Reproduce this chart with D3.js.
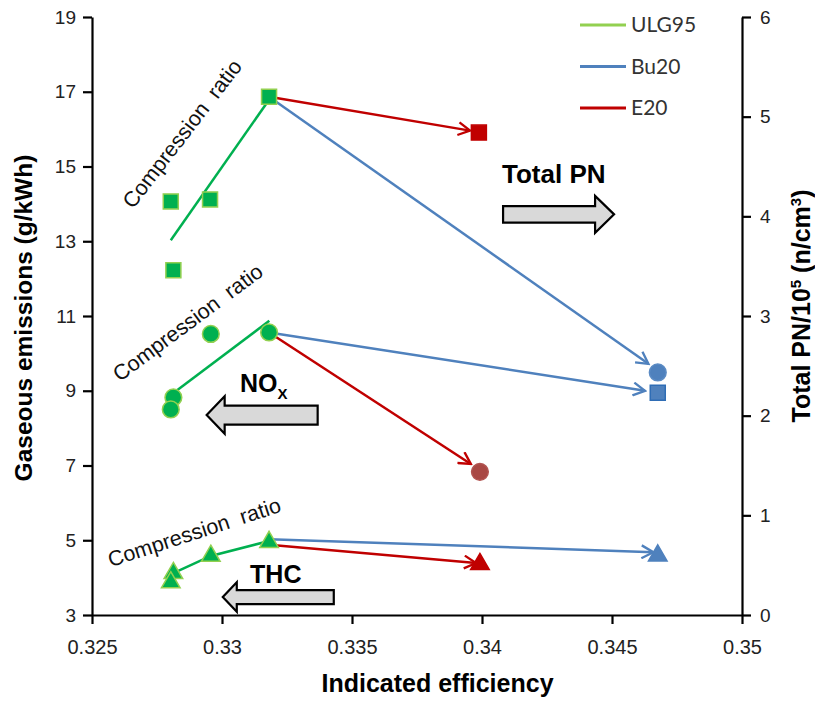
<!DOCTYPE html>
<html>
<head>
<meta charset="utf-8">
<script src="https://cdn.jsdelivr.net/npm/d3@7"></script>
<style>
  body { margin: 0; background: #fff; }
  svg { display: block; font-family: "Liberation Sans", Arial, sans-serif; }
</style>
</head>
<body>
<svg width="815" height="702"></svg>
<script>
// fuels in the legend
var fuels = ["ULG95", "Bu20", "E20"];
var fuelColors = { ULG95: "#00B050", Bu20: "#4F81BD", E20: "#C00000" };

// axis ticks
var xTicks = [0.325, 0.33, 0.335, 0.34, 0.345, 0.35];
var yLeftTicks = [3, 5, 7, 9, 11, 13, 15, 17, 19];
var yRightTicks = [0, 1, 2, 3, 4, 5, 6];

// Total PN (right axis) - squares
var pnUlgX = [0.32803, 0.32813, 0.32954, 0.33181];
var pnUlgY = [4.15, 3.46, 4.17, 5.2];
var pnE20 = [0.33988, 4.84];
var pnBu20 = [0.34676, 2.23];

// NOx (left axis) - circles
var noxUlgX = [0.32813, 0.32803, 0.32957, 0.33181];
var noxUlgY = [8.82, 8.5, 10.52, 10.56];
var noxE20 = [0.33992, 6.83];
var noxBu20 = [0.34676, 9.49];

// THC (left axis) - triangles
var thcUlgX = [0.32813, 0.32803, 0.32957, 0.33181];
var thcUlgY = [4.12, 3.87, 4.58, 4.95];
var thcE20 = [0.33992, 4.36];
var thcBu20 = [0.34676, 4.59];

// compression ratio lines for ULG95
var pnTrend = [[0.32803, 3.76], [0.33181, 5.17]];
var noxTrend = [[0.32817, 8.96], [0.33182, 10.87]];
var thcTrend = [[0.32813, 4.12], [0.32957, 4.58], [0.33181, 4.98]];

// arrows from ULG95 at highest CR to the other fuels: [fuel, axis, from, to]
var fuelArrows = [
  ["E20", "right", [0.33181, 5.2], [0.33954, 4.86]],
  ["Bu20", "right", [0.33181, 5.2], [0.3464, 2.52]],
  ["Bu20", "left", [0.33181, 10.56], [0.34627, 9.0]],
  ["E20", "left", [0.33181, 10.56], [0.33957, 7.04]],
  ["Bu20", "left", [0.33181, 5.03], [0.34659, 4.68]],
  ["E20", "left", [0.33181, 4.88], [0.33977, 4.39]]
];

var svg = d3.select("svg"),
  margin = { top: 17, right: 73, bottom: 87, left: 92 },
  width = +svg.attr("width") - margin.left - margin.right,
  height = +svg.attr("height") - margin.top - margin.bottom;

var g = svg.append("g").attr("transform", "translate(" + margin.left + "," + margin.top + ")");

var xScale = d3.scaleLinear().domain([0.325, 0.35]).range([0, width]);
var yLeft = d3.scaleLinear().domain([3, 19]).range([height, 0]);
var yRight = d3.scaleLinear().domain([0, 6]).range([height, 0]);

// arrow heads
var defs = svg.append("defs");
fuels.forEach(function (f) {
  defs.append("marker")
    .attr("id", "head-" + f)
    .attr("viewBox", "0 0 14 14")
    .attr("refX", 12)
    .attr("refY", 7)
    .attr("markerWidth", 15)
    .attr("markerHeight", 15)
    .attr("markerUnits", "userSpaceOnUse")
    .attr("orient", "auto")
    .append("path")
    .attr("d", "M1,1 L12,7 L1,13")
    .attr("fill", "none")
    .attr("stroke", fuelColors[f])
    .attr("stroke-width", 2.2);
});

// axes
var xAxis = g.append("g")
  .attr("class", "xaxis")
  .attr("transform", "translate(0," + height + ")")
  .call(d3.axisBottom(xScale).tickValues(xTicks).tickSize(9).tickSizeOuter(0).tickFormat(d3.format("")));
xAxis.selectAll("text")
  .attr("y", 39)
  .attr("dy", 0)
  .style("font-size", "20px")
  .attr("fill", "#222");

var leftAxis = g.append("g")
  .attr("class", "yaxis")
  .call(d3.axisLeft(yLeft).tickValues(yLeftTicks).tickSize(9).tickSizeOuter(0));
leftAxis.selectAll("text").style("font-size", "19px").attr("fill", "#222").attr("x", -16);

var rightAxis = g.append("g")
  .attr("class", "yaxis2")
  .attr("transform", "translate(" + width + ",0)")
  .call(d3.axisRight(yRight).tickValues(yRightTicks).tickSize(9).tickSizeOuter(0).tickFormat(d3.format("d")));
rightAxis.selectAll("text").style("font-size", "19px").attr("fill", "#222").attr("x", 18);

g.selectAll(".xaxis path, .yaxis path, .yaxis2 path, .tick line")
  .attr("stroke", "#000")
  .attr("stroke-width", 2.2);

// axis titles
g.append("text")
  .attr("x", xScale(0.33829))
  .attr("y", height + 77)
  .attr("text-anchor", "middle")
  .style("font-size", "25px")
  .style("font-weight", "bold")
  .text("Indicated efficiency");

g.append("text")
  .attr("transform", "rotate(-90)")
  .attr("x", -height / 2 - 2)
  .attr("y", -60)
  .attr("text-anchor", "middle")
  .style("font-size", "24.5px")
  .style("font-weight", "bold")
  .text("Gaseous emissions (g/kWh)");

var rTitle = g.append("text")
  .attr("transform", "rotate(-90)")
  .attr("x", -height / 2 + 10)
  .attr("y", width + 68)
  .attr("text-anchor", "middle")
  .style("font-size", "25px")
  .style("font-weight", "bold");
rTitle.append("tspan").text("Total PN/10");
rTitle.append("tspan").attr("dy", -9).style("font-size", "15px").text("5");
rTitle.append("tspan").attr("dy", 9).text(" (n/cm");
rTitle.append("tspan").attr("dy", -9).style("font-size", "15px").text("3");
rTitle.append("tspan").attr("dy", 9).text(")");

// compression ratio lines
var lineLeft = d3.line().x((d) => xScale(d[0])).y((d) => yLeft(d[1]));
var lineRight = d3.line().x((d) => xScale(d[0])).y((d) => yRight(d[1]));

[[pnTrend, lineRight], [noxTrend, lineLeft], [thcTrend, lineLeft]].forEach(function (t) {
  g.append("path")
    .attr("d", t[1](t[0]))
    .attr("fill", "none")
    .attr("stroke", "#00B050")
    .attr("stroke-width", 2.5);
});

// fuel arrows
g.selectAll(".fuel-arrow")
  .data(fuelArrows)
  .enter()
  .append("line")
  .attr("class", "fuel-arrow")
  .attr("x1", (d) => xScale(d[2][0]))
  .attr("y1", (d) => (d[1] == "right" ? yRight(d[2][1]) : yLeft(d[2][1])))
  .attr("x2", (d) => xScale(d[3][0]))
  .attr("y2", (d) => (d[1] == "right" ? yRight(d[3][1]) : yLeft(d[3][1])))
  .attr("stroke", (d) => fuelColors[d[0]])
  .attr("stroke-width", 2.5)
  .attr("marker-end", (d) => "url(#head-" + d[0] + ")");

// markers
function drawPoints(xs, ys, yScale, shape, size, fill, stroke) {
  g.selectAll(null)
    .data(xs)
    .enter()
    .append("path")
    .attr("transform", function (d, i) {
      return "translate(" + xScale(d) + "," + yScale(ys[i]) + ")";
    })
    .attr("d", d3.symbol().type(shape).size(size))
    .attr("fill", fill)
    .attr("stroke", stroke)
    .attr("stroke-width", 1.5);
}

drawPoints(pnUlgX, pnUlgY, yRight, d3.symbolSquare, 225, "#00B050", "#92D050");
drawPoints([pnE20[0]], [pnE20[1]], yRight, d3.symbolSquare, 225, "#C00000", "#C00000");
drawPoints([pnBu20[0]], [pnBu20[1]], yRight, d3.symbolSquare, 225, "#4F81BD", "#2F6DB5");

drawPoints(noxUlgX, noxUlgY, yLeft, d3.symbolCircle, 220, "#00B050", "#92D050");
drawPoints([noxE20[0]], [noxE20[1]], yLeft, d3.symbolCircle, 220, "#A94844", "#B25552");
drawPoints([noxBu20[0]], [noxBu20[1]], yLeft, d3.symbolCircle, 220, "#4F81BD", "#5B8BC4");

drawPoints(thcUlgX, thcUlgY, yLeft, d3.symbolTriangle, 150, "#00B050", "#92D050");
drawPoints([thcE20[0]], [thcE20[1]], yLeft, d3.symbolTriangle, 150, "#C00000", "#C00000");
drawPoints([thcBu20[0]], [thcBu20[1]], yLeft, d3.symbolTriangle, 150, "#4F81BD", "#4F81BD");

// compression ratio labels: [x, y (left axis), angle]
var crLabels = [
  [0.32658, 13.84, -52.5],
  [0.32607, 9.23, -36.6],
  [0.32572, 4.28, -18]
];
g.selectAll(".cr")
  .data(crLabels)
  .enter()
  .append("text")
  .attr("class", "cr")
  .attr("transform", (d) => "translate(" + xScale(d[0]) + "," + yLeft(d[1]) + ") rotate(" + d[2] + ")")
  .style("font-size", "21.5px")
  .attr("fill", "#111")
  .attr("xml:space", "preserve")
  .text("Compression  ratio");

// block arrows: [x at tip, y (left axis) at centre, direction, head half-height, shaft half-height, head length]
var blockArrows = [
  [0.34508, 13.72, 1, 18.5, 8.3, 19],
  [0.32941, 8.35, -1, 18.7, 9.5, 18],
  [0.33003, 3.48, -1, 14.7, 7, 14]
];
g.selectAll(".block")
  .data(blockArrows)
  .enter()
  .append("path")
  .attr("class", "block")
  .attr("d", function (d) {
    var tip = xScale(d[0]), cy = yLeft(d[1]), dir = d[2];
    var len = 111, head = d[3], shaft = d[4], headL = d[5];
    var base = tip - dir * headL, tail = tip - dir * len;
    return "M" + tail + "," + (cy - shaft) + "L" + base + "," + (cy - shaft) + "L" + base + "," + (cy - head) +
      "L" + tip + "," + cy + "L" + base + "," + (cy + head) + "L" + base + "," + (cy + shaft) +
      "L" + tail + "," + (cy + shaft) + "Z";
  })
  .attr("fill", "#D9D9D9")
  .attr("stroke", "#000")
  .attr("stroke-width", 2.2);

// block arrow labels
g.append("text")
  .attr("x", xScale(0.34077))
  .attr("y", yLeft(14.56))
  .style("font-size", "26px")
  .style("font-weight", "bold")
  .text("Total PN");

var nox = g.append("text")
  .attr("x", xScale(0.33069))
  .attr("y", yLeft(8.97))
  .style("font-size", "25px")
  .style("font-weight", "bold");
nox.append("tspan").text("NO");
nox.append("tspan").attr("dy", 7).style("font-size", "15px").text("X");

g.append("text")
  .attr("x", xScale(0.33108))
  .attr("y", yLeft(3.86))
  .style("font-size", "25px")
  .style("font-weight", "bold")
  .text("THC");

// legend
var legend = svg.append("g").attr("class", "legend");
var legendColors = { ULG95: "#92D050", Bu20: "#4F81BD", E20: "#C00000" };
fuels.forEach(function (f, i) {
  var y = 25 + i * 41.5;
  legend.append("line")
    .attr("x1", 580)
    .attr("x2", 626)
    .attr("y1", y)
    .attr("y2", y)
    .attr("stroke", legendColors[f])
    .attr("stroke-width", 3);
  legend.append("text")
    .attr("x", 631)
    .attr("y", y)
    .attr("dy", "0.35em")
    .style("font-family", "Lato, 'Open Sans', sans-serif")
    .style("font-size", "21px")
    .attr("fill", "#333")
    .text(f);
});
</script>
</body>
</html>
